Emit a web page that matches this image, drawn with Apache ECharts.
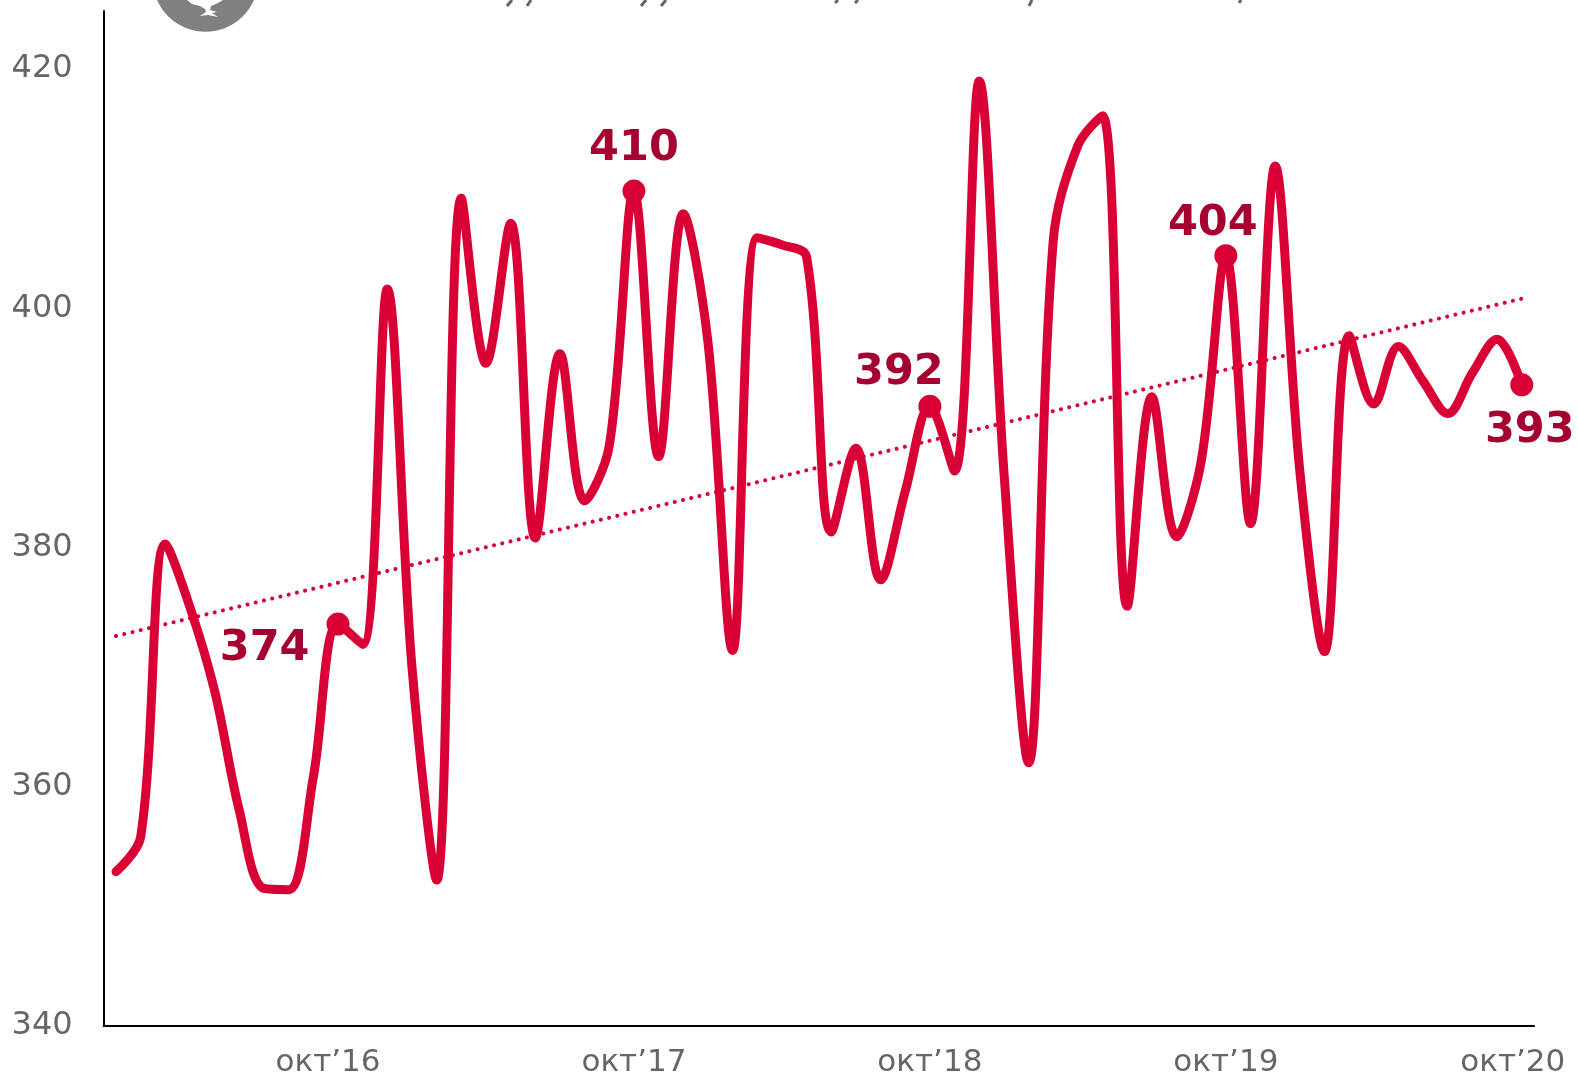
<!DOCTYPE html>
<html><head><meta charset="utf-8">
<style>html,body{margin:0;padding:0;background:#fff}#c{width:1578px;height:1078px}</style>
<script src="https://cdn.jsdelivr.net/npm/echarts@6/dist/echarts.min.js"></script>
</head><body><div id="c"></div>
<script>
const months = ['янв','фев','мар','апр','май','июн','июл','авг','сен','окт','ноя','дек'];
const startYear = 16;
const values = [352.9,355.8,380.3,375,368,358,351.5,351.4,360.8,373.6,371.9,401.6,
 370,352.2,409.2,395.4,407.1,380.8,396.2,383.9,388.5,409.8,387.6,407.9,
 397.2,371.4,405.9,405.3,404.3,381.3,388.3,377.3,384.7,391.8,386.4,419,
 386.4,362,405.6,413.6,416.1,375.1,392.6,380.9,387.2,404.4,382,411.9,
 386.4,371.3,397.7,392,396.8,393.9,391.2,394.6,397.4,393.6];
const categories = values.map((_, i) => months[i % 12] + '’' + (startYear + Math.floor(i / 12)));
const trendFirst = 372.6;
const trendLast = 400.8;
const trend = values.map((_, i) => i === 0 ? trendFirst : i === values.length - 1 ? trendLast : null);
const yTicks = [340,360,380,400,420];
const xTicks = ['окт’16','окт’17','окт’18','окт’19','окт’20'];
const annotated = {'окт’16':'374','окт’17':'410','окт’18':'392','окт’19':'404','окт’20':'393'};

const RED = '#d90036', DARK = '#a50030', GREY = '#666666', FONT = '"DejaVu Sans", Verdana, sans-serif';
const labelPlacement = {
  'окт’16': {position:'left', offset:[-12, 25]},
  'окт’17': {position:'top', offset:[0, -4]},
  'окт’18': {position:'top', offset:[-31, 4]},
  'окт’19': {position:'top', offset:[-13, 6]},
  'окт’20': {position:'bottom', offset:[8, 8]}
};
const seriesData = values.map((v, i) => {
  const c = categories[i];
  if (!annotated[c]) return {value: v, symbol: 'none'};
  return {value: v, symbol: 'circle', symbolSize: 23, label: Object.assign({
    show: true, formatter: annotated[c], color: DARK, fontFamily: FONT, fontWeight: 'bold', fontSize: 43
  }, labelPlacement[c])};
});
const descenders = [[507,6,512,0],[527,6,531,0],[641,6,646,0],[661,6,666,0],[835,3,838,0],[855,3,858,0],[1029,6,1032,0],[1239,3,1241,0]];
const chart = echarts.init(document.getElementById('c'), null, {renderer:'canvas'});
chart.setOption({
  animation:false,
  backgroundColor:'#fff',
  grid:{left:103.7,top:11,width:1430.4,height:1022.8,containLabel:false},
  xAxis:{type:'category',data:categories,boundaryGap:true,
    axisLine:{lineStyle:{color:'#000',width:2}},axisTick:{show:false},
    splitLine:{show:false},
    axisLabel:{interval:(i,v)=>xTicks.includes(v),margin:21,
      formatter:v=> v==='окт’16' ? '{a|'+v+'}' : v==='окт’20' ? '{b|'+v+'}' : '{c|'+v+'}',
      rich:{
        a:{color:GREY,fontFamily:FONT,fontSize:31,padding:[0,20,0,0]},
        b:{color:GREY,fontFamily:FONT,fontSize:31,padding:[0,18,0,0]},
        c:{color:GREY,fontFamily:FONT,fontSize:31}
      }}},
  yAxis:{type:'value',min:340,max:424.85,interval:20,
    axisLine:{show:true,lineStyle:{color:'#000',width:2}},axisTick:{show:false},splitLine:{show:false},
    axisLabel:{customValues:yTicks,color:GREY,fontFamily:FONT,fontSize:32,margin:31,padding:[4,0,0,0]}},
  series:[
    {type:'line',data:trend,connectNulls:true,symbol:'none',silent:true,z:1,
     lineStyle:{color:RED,width:4,type:[0.1,8.35],cap:'round'}},
    {type:'line',data:seriesData,smooth:0.35,z:2,showSymbol:true,
     itemStyle:{color:RED},lineStyle:{color:RED,width:9,cap:'round',join:'round'}}
  ],
  graphic:[
    {type:'circle',shape:{cx:205.5,cy:-21.2,r:52.9},style:{fill:'#808080'},z:10},
    {type:'polygon',shape:{points:[[187,0],[192,4],[200,6],[205,9],[206,12],[200,16],[208,15],[218,17],[212,13],[217,12],[210,10],[211,6],[218,3],[223,0]]},style:{fill:'#fff'},z:11}
  ].concat(descenders.map(d=>({type:'line',shape:{x1:d[0],y1:d[1],x2:d[2],y2:d[3]},style:{stroke:GREY,lineWidth:3},z:10})))
});
</script></body></html>
